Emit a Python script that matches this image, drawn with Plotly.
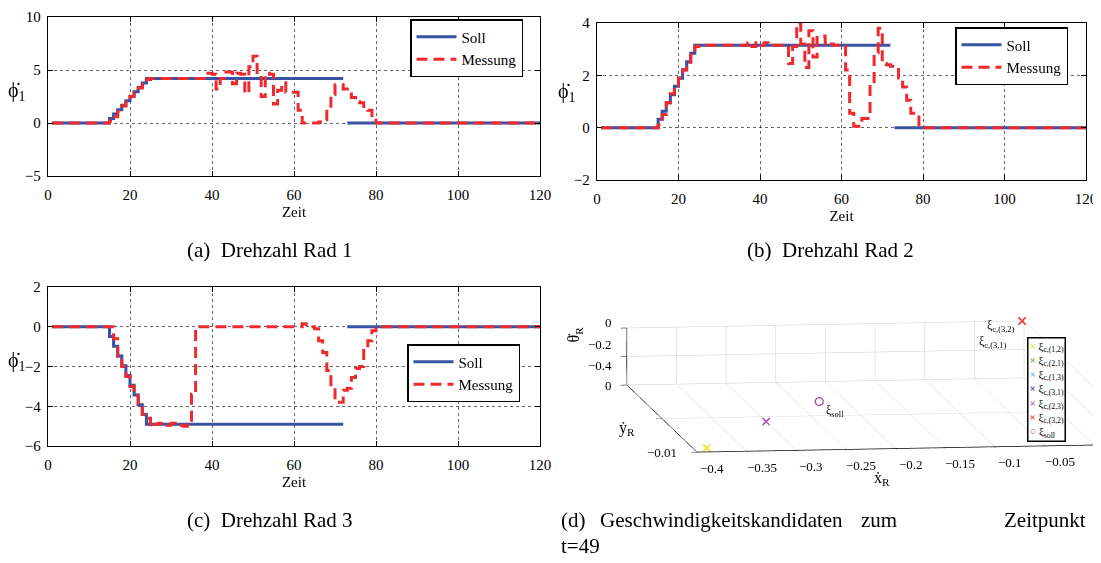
import plotly.graph_objects as go

# ---------------- data ----------------
t = list(range(1, 121))

soll_a = [0, 0, 0, 0, 0, 0, 0, 0, 0, 0, 0, 0, 0, 0,
          0.42, 0.84, 1.26, 1.68, 2.1, 2.52, 2.94, 3.36, 3.78, 4.2,
          4.2, 4.2, 4.2, 4.2, 4.2, 4.2, 4.2, 4.2, 4.2, 4.2, 4.2, 4.2, 4.2, 4.2, 4.2, 4.2,
          4.2, 4.2, 4.2, 4.2, 4.2, 4.2, 4.2, 4.2, 4.2, 4.2, 4.2, 4.2, 4.2, 4.2, 4.2, 4.2,
          4.2, 4.2, 4.2, 4.2, 4.2, 4.2, 4.2, 4.2, 4.2, 4.2, 4.2, 4.2, 4.2, 4.2, 4.2, 4.2,
          0, 0, 0, 0, 0, 0, 0, 0, 0, 0, 0, 0, 0, 0, 0, 0, 0, 0, 0, 0, 0, 0, 0, 0,
          0, 0, 0, 0, 0, 0, 0, 0, 0, 0, 0, 0, 0, 0, 0, 0, 0, 0, 0, 0, 0, 0, 0, 0]
mess_a = [0, 0, 0, 0, 0, 0, 0, 0, 0, 0, 0, 0, 0, 0,
          0.2, 0.6, 1.1, 1.6, 2.0, 2.5, 2.9, 3.3, 3.8, 4.1,
          4.2, 4.2, 4.2, 4.2, 4.2, 4.2, 4.2, 4.2, 4.2, 4.2, 4.2, 4.2, 4.2,
          4.2, 4.7, 4.6, 3.2, 4.2, 4.8, 4.8, 3.7, 4.7, 4.6, 2.8, 5.3, 6.3, 4.5, 2.5, 4.7,
          4.6, 1.8, 3.1, 3.8, 2.9, 2.9, 2.9, 1.2, 0.0, 0.0, 0.0, 0.0, 0.1, 0.3, 1.3, 2.7,
          3.6, 3.6, 3.2, 2.9, 2.4, 2.0, 1.9, 1.3, 1.2, 0.4,
          0, 0, 0, 0, 0, 0, 0, 0, 0, 0, 0, 0, 0, 0, 0, 0, 0, 0, 0, 0, 0,
          0, 0, 0, 0, 0, 0, 0, 0, 0, 0, 0, 0, 0, 0, 0, 0, 0, 0, 0, 0]

soll_b = [0, 0, 0, 0, 0, 0, 0, 0, 0, 0, 0, 0, 0, 0,
          0.32, 0.63, 0.95, 1.26, 1.58, 1.89, 2.21, 2.52, 2.84, 3.15,
          3.15, 3.15, 3.15, 3.15, 3.15, 3.15, 3.15, 3.15, 3.15, 3.15, 3.15, 3.15,
          3.15, 3.15, 3.15, 3.15, 3.15, 3.15, 3.15, 3.15, 3.15, 3.15, 3.15, 3.15,
          3.15, 3.15, 3.15, 3.15, 3.15, 3.15, 3.15, 3.15, 3.15, 3.15, 3.15, 3.15,
          3.15, 3.15, 3.15, 3.15, 3.15, 3.15, 3.15, 3.15, 3.15, 3.15, 3.15, 3.15,
          0, 0, 0, 0, 0, 0, 0, 0, 0, 0, 0, 0, 0, 0, 0, 0, 0, 0, 0, 0, 0, 0, 0, 0,
          0, 0, 0, 0, 0, 0, 0, 0, 0, 0, 0, 0, 0, 0, 0, 0, 0, 0, 0, 0, 0, 0, 0, 0]
mess_b = [0, 0, 0, 0, 0, 0, 0, 0, 0, 0, 0, 0, 0, 0,
          0.1, 0.5, 0.95, 1.3, 1.6, 1.9, 2.2, 2.5, 2.85, 3.1,
          3.15, 3.15, 3.15, 3.15, 3.15, 3.15, 3.15, 3.15, 3.15, 3.15, 3.15, 3.15,
          3.25, 3.1, 3.25, 3.15, 3.25, 3.2, 3.15, 3.15, 3.15, 3.15, 2.45, 3.1, 4.0, 3.2,
          2.3, 3.7, 2.7, 3.45, 3.5, 3.15, 3.2, 3.15, 3.15, 3.1, 2.2, 0.55, 0.05, 0.05,
          0.35, 0.35, 1.7, 2.85, 3.8, 2.45, 2.4, 2.35, 2.3, 1.9, 1.55, 1.05, 0.55, 0.55, 0.1,
          0, 0, 0, 0, 0, 0, 0, 0, 0, 0, 0, 0, 0, 0, 0, 0, 0, 0, 0, 0, 0,
          0, 0, 0, 0, 0, 0, 0, 0, 0, 0, 0, 0, 0, 0, 0, 0, 0, 0, 0, 0]

soll_c = [0, 0, 0, 0, 0, 0, 0, 0, 0, 0, 0, 0, 0, 0,
          -0.49, -0.98, -1.47, -1.96, -2.45, -2.94, -3.43, -3.92, -4.41, -4.9,
          -4.9, -4.9, -4.9, -4.9, -4.9, -4.9, -4.9, -4.9, -4.9, -4.9, -4.9, -4.9,
          -4.9, -4.9, -4.9, -4.9, -4.9, -4.9, -4.9, -4.9, -4.9, -4.9, -4.9, -4.9,
          -4.9, -4.9, -4.9, -4.9, -4.9, -4.9, -4.9, -4.9, -4.9, -4.9, -4.9, -4.9,
          -4.9, -4.9, -4.9, -4.9, -4.9, -4.9, -4.9, -4.9, -4.9, -4.9, -4.9, -4.9,
          0, 0, 0, 0, 0, 0, 0, 0, 0, 0, 0, 0, 0, 0, 0, 0, 0, 0, 0, 0, 0, 0, 0, 0,
          0, 0, 0, 0, 0, 0, 0, 0, 0, 0, 0, 0, 0, 0, 0, 0, 0, 0, 0, 0, 0, 0, 0, 0]
mess_c = [0, 0, 0, 0, 0, 0, 0, 0, 0, 0, 0, 0, 0, 0, 0,
          -0.6, -1.5, -2.0, -2.5, -3.0, -3.3, -3.9, -4.4, -4.6, -5.05,
          -4.9, -4.85, -4.9, -4.95, -4.85, -4.9, -4.95, -5.0, -4.9, -3.4,
          0, 0, 0, 0, 0, 0, 0, 0, 0, 0, 0, 0, 0, 0, 0, 0, 0, 0, 0, 0, 0, 0, 0, 0, 0, 0,
          0.15, 0.1, 0.0, -0.1, -0.7, -1.3, -2.2, -3.0, -3.8, -3.8, -3.2, -3.1, -2.55,
          -2.1, -2.0, -1.2, -0.7, -0.2,
          0, 0, 0, 0, 0, 0, 0, 0, 0, 0, 0, 0, 0, 0, 0, 0, 0, 0, 0, 0, 0,
          0, 0, 0, 0, 0, 0, 0, 0, 0, 0, 0, 0, 0, 0, 0, 0, 0, 0, 0, 0]

soll_gap_index = 72  # Soll line is interrupted between t=72 and t=73

x_ticks_2d = [0, 20, 40, 60, 80, 100, 120]
y_ticks_a = [-5, 0, 5, 10]
y_ticks_b = [-2, 0, 2, 4]
y_ticks_c = [-6, -4, -2, 0, 2]

# 3D candidates at t=49
cand_names = ['ξ<sub>c,(1,2)</sub>', 'ξ<sub>c,(2,1)</sub>', 'ξ<sub>c,(1,3)</sub>',
              'ξ<sub>c,(3,1)</sub>', 'ξ<sub>c,(2,3)</sub>', 'ξ<sub>c,(3,2)</sub>']
cand_x = [-0.386, -0.300, -0.386, -0.002, -0.300, -0.002]
cand_y = [-0.0094, -0.0057, -0.0094, 0.0, -0.0057, 0.0]
cand_z = [-0.40, -0.40, -0.40, 0.0, -0.40, 0.0]
cand_colors = ['#e6e61a', '#4fb84f', '#4cc7d9', '#2b3f9e', '#b04fb0', '#f02525']
soll_name = 'ξ<sub>soll</sub>'
soll_color = '#b04fb0'
soll_pt = [-0.227, -0.0029, -0.40]

x3_ticks = [-0.4, -0.35, -0.3, -0.25, -0.2, -0.15, -0.1, -0.05, 0]
x3_labels = ['−0.4', '−0.35', '−0.3', '−0.25', '−0.2', '−0.15', '−0.1', '−0.05', '0']
y3_ticks = [-0.01, 0]
y3_labels = ['−0.01', '0']
z3_ticks = [0, -0.2, -0.4]
z3_labels = ['0', '−0.2', '−0.4']

# ---------------- styling ----------------
FONT = 'Liberation Serif'
BLUE = '#3953a4'
RED = '#ee2a2e'
OFF = 8                      # page body margin of the html page
W, H = 1101 - OFF, 563 - OFF

fig = go.Figure()


def with_gap(vals):
    xs = t[:soll_gap_index] + [None] + t[soll_gap_index:]
    ys = vals[:soll_gap_index] + [None] + vals[soll_gap_index:]
    return xs, ys


panels = [('x', 'y', 'legend', soll_a, mess_a),
          ('x2', 'y2', 'legend2', soll_b, mess_b),
          ('x3', 'y3', 'legend3', soll_c, mess_c)]
for xa, ya, lg, s_vals, m_vals in panels:
    xs, ys = with_gap(s_vals)
    fig.add_trace(go.Scatter(x=xs, y=ys, mode='lines', name='Soll', xaxis=xa, yaxis=ya,
                             legend=lg, line=dict(color=BLUE, width=3, shape='hv'),
                             connectgaps=False))
    fig.add_trace(go.Scatter(x=t, y=m_vals, mode='lines', name='Messung', xaxis=xa, yaxis=ya,
                             legend=lg, line=dict(color=RED, width=3, shape='hv',
                                                  dash='11px,6px')))

# 3D traces (their legend is drawn as a boxed annotation below);
# drawing order chosen so that overlapping markers look as in the original
draw_order = [2, 1, 3, 0, 4, 5]
for i in draw_order:
    fig.add_trace(go.Scatter3d(x=[cand_x[i]], y=[cand_y[i]], z=[cand_z[i]], mode='markers',
                               name=cand_names[i], showlegend=False, scene='scene',
                               marker=dict(symbol='x', size=1.8, color=cand_colors[i])))
fig.add_trace(go.Scatter3d(x=[soll_pt[0]], y=[soll_pt[1]], z=[soll_pt[2]], mode='markers',
                           name=soll_name, showlegend=False, scene='scene',
                           marker=dict(symbol='circle-open', size=5, color=soll_color,
                                       line=dict(width=2, color=soll_color))))


def px_x(p):
    return (p - OFF) / W


def px_y(p):
    return 1 - (p - OFF) / H


axis_common = dict(showline=True, linecolor='black', linewidth=1.4, mirror='ticks',
                   ticks='inside', ticklen=5, tickcolor='black', showgrid=True,
                   gridcolor='rgba(0,0,0,0.6)', griddash='dot', gridwidth=1,
                   zeroline=False, automargin=False,
                   tickfont=dict(family=FONT, size=15, color='black'))

xtitle = dict(text='Zeit', font=dict(family=FONT, size=15, color='black'), standoff=4)

layout_axes = {
    'xaxis': dict(domain=[px_x(48), px_x(540)], range=[0, 120], tickvals=x_ticks_2d,
                  anchor='y', title=xtitle, ticklabelstandoff=5, **axis_common),
    'yaxis': dict(domain=[px_y(176), px_y(17)], range=[-5, 10], tickvals=y_ticks_a,
                  anchor='x', ticklabelstandoff=3, **axis_common),
    'xaxis2': dict(domain=[px_x(597), px_x(1086)], range=[0, 120], tickvals=x_ticks_2d,
                   anchor='y2', title=xtitle, ticklabelstandoff=5, **axis_common),
    'yaxis2': dict(domain=[px_y(180), px_y(23)], range=[-2, 4], tickvals=y_ticks_b,
                   anchor='x2', ticklabelstandoff=3, **axis_common),
    'xaxis3': dict(domain=[px_x(48), px_x(540)], range=[0, 120], tickvals=x_ticks_2d,
                   anchor='y3', title=xtitle, ticklabelstandoff=5, **axis_common),
    'yaxis3': dict(domain=[px_y(446), px_y(287)], range=[-6, 2], tickvals=y_ticks_c,
                   anchor='x3', ticklabelstandoff=3, **axis_common),
}

leg_common = dict(bgcolor='white', bordercolor='black', borderwidth=1.5,
                  font=dict(family=FONT, size=15, color='black'),
                  xanchor='left', yanchor='top', tracegroupgap=0, itemwidth=40)

ax3_common = dict(showbackground=False, showgrid=True, gridcolor='#cfcfcf', gridwidth=1,
                  showline=True, linecolor='black', linewidth=1.5, zeroline=False,
                  showticklabels=False, ticks='outside', ticklen=6, tickcolor='black',
                  showspikes=False, title=dict(text=''))

d = (-0.1345, -0.9823, 0.1310)
k = 8.0
zoom3d = 3.8
scene = dict(
    domain=dict(x=[0.56, 1.0], y=[0.128, 0.508]),
    xaxis=dict(range=[-0.4, 0], tickvals=x3_ticks, **ax3_common),
    yaxis=dict(range=[-0.01, 0], tickvals=[-0.01, -0.005, 0], **ax3_common),
    zaxis=dict(range=[-0.4, 0], tickvals=z3_ticks, **ax3_common),
    aspectmode='manual',
    aspectratio=dict(x=1 * zoom3d, y=1.29 * zoom3d, z=0.1435 * zoom3d),
    camera=dict(projection=dict(type='orthographic'),
                eye=dict(x=d[0] * k, y=d[1] * k, z=d[2] * k),
                up=dict(x=0, y=0, z=1), center=dict(x=0, y=0, z=0)),
    bgcolor='rgba(0,0,0,0)',
)

tfont = dict(family=FONT, size=13, color='black')
scene_ann = []
for xv, lab in zip(x3_ticks, x3_labels):
    scene_ann.append(dict(x=xv, y=-0.01, z=-0.4, text=lab, showarrow=False,
                          xshift=15, yshift=-16, font=tfont))
for yv, lab, xs in zip(y3_ticks, y3_labels, [-18, -13]):
    scene_ann.append(dict(x=-0.4, y=yv, z=-0.4, text=lab, showarrow=False,
                          xanchor='right', xshift=xs, font=tfont))
for zv, lab, ys in zip(z3_ticks, z3_labels, [6, 12, 20]):
    scene_ann.append(dict(x=-0.4, y=0, z=zv, text=lab, showarrow=False,
                          xanchor='right', xshift=-13, yshift=ys, font=tfont))
lfont = dict(family=FONT, size=16, color='black')
sfont = dict(family=FONT, size=12, color='black')
scene_ann += [
    dict(x=-0.2, y=-0.01, z=-0.4, text='ẋ<sub>R</sub>', showarrow=False,
         xshift=-14, yshift=-30, font=lfont),
    dict(x=-0.4, y=-0.005, z=-0.4, text='ẏ<sub>R</sub>', showarrow=False,
         xshift=-35, yshift=-10, font=lfont),
    dict(x=-0.4, y=0, z=-0.2, text='θ̇<sub>R</sub>', showarrow=False, textangle=-90,
         xshift=-52, yshift=22, font=lfont),
    dict(x=soll_pt[0], y=soll_pt[1], z=soll_pt[2], text=soll_name, showarrow=False,
         xanchor='left', xshift=5, yshift=-10, font=sfont),
    dict(x=cand_x[5], y=cand_y[5], z=cand_z[5], text=cand_names[5], showarrow=False,
         xanchor='right', xshift=-6, yshift=-5, font=sfont),
    dict(x=cand_x[3], y=cand_y[3], z=cand_z[3], text=cand_names[3], showarrow=False,
         xanchor='right', xshift=-14, yshift=-21, font=sfont),
]
scene['annotations'] = scene_ann

cap_font = dict(family=FONT, size=21, color='black')
ylab_font = dict(family=FONT, size=20, color='black')


def pann(x, y, text, font, xanchor='center', yanchor='middle', **kw):
    return dict(x=px_x(x), y=px_y(y), xref='paper', yref='paper', text=text,
                xanchor=xanchor, yanchor=yanchor, showarrow=False, font=font, **kw)


# legend box of the 3D panel
leg3d_lines = ['<span style="color:%s"><b>×</b></span> %s' % (c, n)
               for c, n in zip(cand_colors, cand_names)]
leg3d_lines.append('<span style="color:%s"><b>○</b></span> %s' % (soll_color, soll_name))

annotations = [
    pann(17, 91, 'ϕ̇<sub>1</sub>', ylab_font),
    pann(567, 92, 'ϕ̇<sub>1</sub>', ylab_font),
    pann(17, 361, 'ϕ̇<sub>1</sub>', ylab_font),
    pann(270, 250, '(a)  Drehzahl Rad 1', cap_font),
    pann(830, 250, '(b)  Drehzahl Rad 2', cap_font),
    pann(270, 520, '(c)  Drehzahl Rad 3', cap_font),
    pann(559, 520, '(d)', cap_font, xanchor='left'),
    pann(598, 520, 'Geschwindigkeitskandidaten', cap_font, xanchor='left'),
    pann(859, 520, 'zum', cap_font, xanchor='left'),
    pann(1088, 520, 'Zeitpunkt', cap_font, xanchor='right'),
    pann(559, 546, 't=49', cap_font, xanchor='left'),
    pann(1027, 337, '<br>'.join(leg3d_lines), dict(family=FONT, size=11, color='black'),
         xanchor='left', yanchor='top', align='left', bgcolor='white',
         bordercolor='black', borderwidth=1.5, borderpad=1),
]

fig.update_layout(
    width=W, height=H, margin=dict(l=0, r=0, t=0, b=0),
    paper_bgcolor='white', plot_bgcolor='white', showlegend=True,
    legend=dict(x=px_x(410), y=px_y(19), **leg_common),
    legend2=dict(x=px_x(955), y=px_y(27), **leg_common),
    legend3=dict(x=px_x(407), y=px_y(344), **leg_common),
    scene=scene,
    annotations=annotations,
    **layout_axes,
)

fig.write_html('out.html')
